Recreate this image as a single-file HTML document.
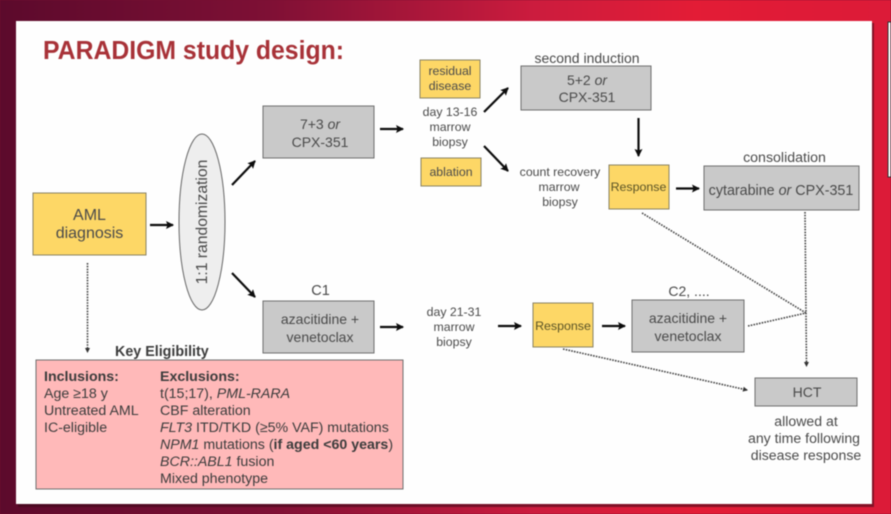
<!DOCTYPE html>
<html><head><meta charset="utf-8"><style>
html,body{margin:0;padding:0;width:891px;height:514px;overflow:hidden;background:#7a0f30}
svg{display:block;filter:blur(.55px)}
text{font-family:"Liberation Sans",sans-serif;fill:#4a4a4a;text-anchor:middle}
.l{text-anchor:start;fill:#3c3c3c}
.b{stroke:#6f6f6f;stroke-width:1}
.y{fill:#fdd766;stroke:#8a8264}
.g{fill:#c9c9c9}
.a{stroke:#0c0c0c;stroke-width:2.2;fill:none;marker-end:url(#h)}
.d{stroke:#444;stroke-width:1.6;stroke-dasharray:1.6 1.2;fill:none}
</style></head><body>
<svg width="891" height="514" viewBox="0 0 891 514" xmlns="http://www.w3.org/2000/svg">
<defs>
<linearGradient id="bg" x1="0" y1="0" x2="1" y2="0">
<stop offset="0" stop-color="#5c0a2c"/><stop offset=".3" stop-color="#7e1035"/><stop offset=".6" stop-color="#cc1c3e"/><stop offset=".78" stop-color="#e31c36"/><stop offset="1" stop-color="#dc1b38"/>
</linearGradient>
<marker id="h" markerUnits="userSpaceOnUse" markerWidth="10" markerHeight="10" refX="7" refY="4" orient="auto"><path d="M0 0L8 4L0 8L1.5 4Z" fill="#0c0c0c"/></marker>
<marker id="s" markerUnits="userSpaceOnUse" markerWidth="6" markerHeight="6" refX="4" refY="2.5" orient="auto"><path d="M0 0L5 2.5L0 5Z" fill="#333"/></marker>
</defs>
<rect width="891" height="514" fill="url(#bg)"/>
<rect x="18" y="23" width="856" height="484" fill="#3a0a18" opacity=".55"/>
<rect x="16" y="21" width="856" height="483" fill="#fefefe"/>
<rect x="888" y="22" width="3" height="155" fill="#fefefe" stroke="#333"/>
<text class="l" x="43" y="59" style="font-size:25.500px;font-weight:bold;fill:#a83238" textLength="301" lengthAdjust="spacingAndGlyphs">PARADIGM study design:</text>

<rect class="b y" x="33" y="193" width="113" height="62"/>
<text x="89.500" y="220" font-size="16">AML</text><text x="89.500" y="238" font-size="16">diagnosis</text>

<ellipse cx="202" cy="222" rx="23" ry="88" fill="#eeeeee" stroke="#666"/>
<text transform="translate(207,222) rotate(-90)" font-size="15.700">1:1 randomization</text>

<rect class="b g" x="263" y="106" width="111" height="52"/>
<text x="320" y="129" font-size="14">7+3 <tspan font-style="italic">or</tspan></text><text x="320" y="147" font-size="14">CPX-351</text>

<text x="320.500" y="295" font-size="14.500">C1</text>
<rect class="b g" x="263" y="301" width="111" height="52"/>
<text x="320" y="324" font-size="14">azacitidine +</text><text x="320" y="342" font-size="14">venetoclax</text>

<rect class="b y" x="420" y="60" width="60" height="38"/>
<text x="450" y="75" font-size="12.300">residual</text><text x="450" y="90" font-size="12.300">disease</text>
<text x="450" y="116" font-size="12.300">day 13-16</text><text x="450" y="131" font-size="12.300">marrow</text><text x="450" y="146" font-size="12.300">biopsy</text>
<rect class="b y" x="421" y="158" width="60" height="28"/>
<text x="451" y="176" font-size="12.300">ablation</text>

<text x="587" y="63" font-size="14">second induction</text>
<rect class="b g" x="521" y="66" width="130" height="44"/>
<text x="587" y="85" font-size="14">5+2 <tspan font-style="italic">or</tspan></text><text x="587" y="102" font-size="14">CPX-351</text>

<text x="560" y="176" font-size="12.300">count recovery</text><text x="559" y="191" font-size="12.300">marrow</text><text x="560" y="206" font-size="12.300">biopsy</text>

<rect class="b y" x="609" y="165" width="60" height="44"/>
<text x="638.500" y="191" font-size="12.400" style="fill:#5a5326">Response</text>

<text x="784.500" y="162" font-size="14.200">consolidation</text>
<rect class="b g" x="704" y="166" width="155" height="44"/>
<text x="781" y="195" font-size="14.300">cytarabine <tspan font-style="italic">or</tspan> CPX-351</text>

<text x="454" y="316" font-size="12.300">day 21-31</text><text x="454" y="331" font-size="12.300">marrow</text><text x="454" y="346" font-size="12.300">biopsy</text>

<rect class="b y" x="533" y="303" width="60" height="44"/>
<text x="563" y="330" font-size="12.400" style="fill:#5a5326">Response</text>

<text x="689" y="296" font-size="14">C2, ....</text>
<rect class="b g" x="632" y="300" width="112" height="52"/>
<text x="688" y="323" font-size="14">azacitidine +</text><text x="688" y="341" font-size="14">venetoclax</text>

<rect class="b g" x="755" y="378" width="102" height="28"/>
<text x="807" y="397" font-size="14">HCT</text>
<text x="806" y="426" font-size="14.100">allowed at</text><text x="804" y="443" font-size="14.100">any time following</text><text x="806" y="460" font-size="14.100">disease response</text>

<text class="l" x="115" y="356" style="font-weight:bold;font-size:14.300px">Key Eligibility</text>
<rect x="36" y="360" width="367" height="129" fill="#ffb9b9" stroke="#6f6f6f"/>
<g>
<text class="l" x="44" y="381" style="font-size:14.200px;font-weight:bold">Inclusions:</text>
<text class="l" x="44" y="398" style="font-size:14.200px">Age ≥18 y</text>
<text class="l" x="44" y="415" style="font-size:14.200px">Untreated AML</text>
<text class="l" x="44" y="432" style="font-size:14.200px">IC-eligible</text>
<text class="l" x="160" y="381" style="font-size:14.200px;font-weight:bold">Exclusions:</text>
<text class="l" x="160" y="398" style="font-size:14.200px">t(15;17), <tspan font-style="italic">PML-RARA</tspan></text>
<text class="l" x="160" y="415" style="font-size:14.200px">CBF alteration</text>
<text class="l" x="160" y="432" style="font-size:14.200px"><tspan font-style="italic">FLT3</tspan> ITD/TKD (≥5% VAF) mutations</text>
<text class="l" x="160" y="449" style="font-size:14.200px"><tspan font-style="italic">NPM1</tspan> mutations (<tspan font-weight="bold">if aged &lt;60 years</tspan>)</text>
<text class="l" x="160" y="466" style="font-size:14.200px"><tspan font-style="italic">BCR::ABL1</tspan> fusion</text>
<text class="l" x="160" y="483" style="font-size:14.200px">Mixed phenotype</text>
</g>

<path class="a" d="M150 225H173"/>
<path class="a" d="M232 185L255 161"/>
<path class="a" d="M232 273L255 297"/>
<path class="a" d="M380 129H403"/>
<path class="a" d="M380 327H403"/>
<path class="a" d="M484 112L508 88"/>
<path class="a" d="M484 146L508 171"/>
<path class="a" d="M638.500 118V156"/>
<path class="a" d="M676 188.500H699"/>
<path class="a" d="M498 326H521"/>
<path class="a" d="M602 326H625"/>

<path class="d" d="M87.500 263V352" marker-end="url(#s)"/>
<path class="d" d="M642 213L806 313"/>
<path class="d" d="M748 326L806 313"/>
<path class="d" d="M805 212L806.500 366" marker-end="url(#s)"/>
<path class="d" d="M563 349L747 390" marker-end="url(#s)"/>
</svg>
</body></html>
